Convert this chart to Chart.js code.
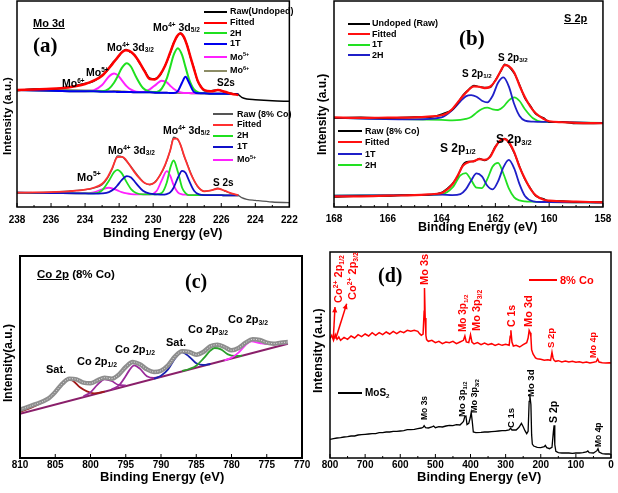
<!DOCTYPE html>
<html>
<head>
<meta charset="utf-8">
<script src="https://cdn.jsdelivr.net/npm/chart.js@4.4.1/dist/chart.umd.min.js"></script>
<style>
  body { margin: 0; background: #fff; }
  #fig { position: relative; width: 618px; height: 493px; overflow: hidden; background: #fff;
         font-family: 'Liberation Sans', Arial, sans-serif; }
  #fig canvas { position: absolute; }
  .t { position: absolute; line-height: 1; white-space: nowrap; font-weight: bold; color: #000; }
  .t sup, .t sub { font-size: 0.62em; position: relative; vertical-align: baseline; line-height: 0; }
  .t sup { top: -0.6em; }
  .t sub { top: 0.3em; }
  .serif { font-family: 'Liberation Serif', 'Times New Roman', serif; }
  .rot { transform-origin: left top; transform: rotate(-90deg); }
  .red { color: #ff0000; }
  .ln { position: absolute; height: 2px; }
</style>
</head>
<body>
<div id="fig">
  <canvas id="cA" width="305" height="245" style="left:0;top:0"></canvas>
  <canvas id="cB" width="313" height="245" style="left:305px;top:0"></canvas>
  <canvas id="cC" width="315" height="248" style="left:0;top:245px"></canvas>
  <canvas id="cD" width="313" height="248" style="left:305px;top:245px"></canvas>

  <!-- axis titles -->
  <div class="t rot" style="left:1.5px;top:155px;font-size:11.5px">Intensity (a.u.)</div>
  <div class="t rot" style="left:316px;top:155px;font-size:12px">Intensity (a.u.)</div>
  <div class="t rot" style="left:1.5px;top:402px;font-size:12px">Intensity(a.u.)</div>
  <div class="t rot" style="left:312px;top:393px;font-size:12.5px">Intensity (a.u.)</div>
  <div class="t" style="left:103px;top:226.5px;font-size:12.5px">Binding Energy (eV)</div>
  <div class="t" style="left:418px;top:221px;font-size:12.5px">Binding Energy (eV)</div>
  <div class="t" style="left:100px;top:470px;font-size:13px">Binding Energy (eV)</div>
  <div class="t" style="left:417px;top:469.5px;font-size:13px">Binding Energy (eV)</div>

  <!-- (a) Mo 3d -->
  <div class="t" style="left:33px;top:17.5px;font-size:11px;text-decoration:underline">Mo 3d</div>
  <div class="t serif" style="left:33px;top:35px;font-size:21px">(a)</div>
  <div class="t" style="left:107px;top:41.5px;font-size:10.5px">Mo<sup>4+</sup> 3d<sub>3/2</sub></div>
  <div class="t" style="left:153px;top:21.5px;font-size:10.5px">Mo<sup>4+</sup> 3d<sub>5/2</sub></div>
  <div class="t" style="left:86px;top:66.5px;font-size:10.5px">Mo<sup>5+</sup></div>
  <div class="t" style="left:62px;top:77.5px;font-size:10.5px">Mo<sup>6+</sup></div>
  <div class="t" style="left:217px;top:77.5px;font-size:10px">S2s</div>
  <div class="t" style="left:108px;top:144.5px;font-size:10.5px">Mo<sup>4+</sup> 3d<sub>3/2</sub></div>
  <div class="t" style="left:163px;top:124.5px;font-size:10.5px">Mo<sup>4+</sup> 3d<sub>5/2</sub></div>
  <div class="t" style="left:77px;top:171.5px;font-size:11px">Mo<sup>5+</sup></div>
  <div class="t" style="left:213px;top:177.5px;font-size:10px">S 2s</div>

  <div class="ln" style="left:204px;top:10.5px;width:23px;background:#000"></div>
  <div class="t" style="left:230px;top:7px;font-size:9px">Raw(Undoped)</div>
  <div class="ln" style="left:204px;top:21.5px;width:23px;background:#ff0000"></div>
  <div class="t" style="left:230px;top:18px;font-size:9px">Fitted</div>
  <div class="ln" style="left:204px;top:32px;width:23px;background:#1fe01f"></div>
  <div class="t" style="left:230px;top:28.5px;font-size:9px">2H</div>
  <div class="ln" style="left:204px;top:42.5px;width:23px;background:#0000ee"></div>
  <div class="t" style="left:230px;top:39px;font-size:9px">1T</div>
  <div class="ln" style="left:204px;top:56px;width:23px;background:#ff20ff"></div>
  <div class="t" style="left:230px;top:52.5px;font-size:9px">Mo<sup>5+</sup></div>
  <div class="ln" style="left:204px;top:69.5px;width:23px;background:#8c8c66"></div>
  <div class="t" style="left:230px;top:66px;font-size:9px">Mo<sup>6+</sup></div>

  <div class="ln" style="left:213px;top:113px;width:20px;background:#555"></div>
  <div class="t" style="left:237px;top:109.5px;font-size:9px">Raw (8% Co)</div>
  <div class="ln" style="left:213px;top:123.5px;width:20px;background:#ff3030"></div>
  <div class="t" style="left:237px;top:120px;font-size:9px">Fitted</div>
  <div class="ln" style="left:213px;top:134.5px;width:20px;background:#1fe01f"></div>
  <div class="t" style="left:237px;top:131px;font-size:9px">2H</div>
  <div class="ln" style="left:213px;top:145.5px;width:20px;background:#1010c8"></div>
  <div class="t" style="left:237px;top:142px;font-size:9px">1T</div>
  <div class="ln" style="left:213px;top:158.5px;width:20px;background:#ff20ff"></div>
  <div class="t" style="left:237px;top:155px;font-size:9px">Mo<sup>5+</sup></div>

  <!-- (b) S 2p -->
  <div class="t serif" style="left:459px;top:28px;font-size:21px">(b)</div>
  <div class="t" style="left:564px;top:12.5px;font-size:11px;text-decoration:underline">S 2p</div>
  <div class="t" style="left:462px;top:68.5px;font-size:10px">S 2p<sub>1/2</sub></div>
  <div class="t" style="left:498px;top:52.5px;font-size:10px">S 2p<sub>3/2</sub></div>
  <div class="t" style="left:440px;top:141.5px;font-size:12px">S 2p<sub>1/2</sub></div>
  <div class="t" style="left:496px;top:132.5px;font-size:12px">S 2p<sub>3/2</sub></div>

  <div class="ln" style="left:348px;top:22.5px;width:22px;background:#000"></div>
  <div class="t" style="left:372px;top:19px;font-size:9px">Undoped (Raw)</div>
  <div class="ln" style="left:348px;top:33px;width:22px;background:#ff1010"></div>
  <div class="t" style="left:372px;top:29.5px;font-size:9px">Fitted</div>
  <div class="ln" style="left:348px;top:43.5px;width:22px;background:#22e022"></div>
  <div class="t" style="left:372px;top:40px;font-size:9px">1T</div>
  <div class="ln" style="left:348px;top:54px;width:22px;background:#1f1fc8"></div>
  <div class="t" style="left:372px;top:50.5px;font-size:9px">2H</div>

  <div class="ln" style="left:338px;top:130px;width:24px;background:#000"></div>
  <div class="t" style="left:365px;top:126.5px;font-size:9px">Raw (8% Co)</div>
  <div class="ln" style="left:338px;top:141px;width:24px;background:#ff1010"></div>
  <div class="t" style="left:365px;top:137.5px;font-size:9px">Fitted</div>
  <div class="ln" style="left:338px;top:153px;width:24px;background:#1f1fc8"></div>
  <div class="t" style="left:365px;top:149.5px;font-size:9px">1T</div>
  <div class="ln" style="left:338px;top:164px;width:24px;background:#22e022"></div>
  <div class="t" style="left:365px;top:160.5px;font-size:9px">2H</div>

  <!-- (c) Co 2p -->
  <div class="t" style="left:37px;top:268.5px;font-size:11.5px"><span style="text-decoration:underline">Co 2p</span> (8% Co)</div>
  <div class="t serif" style="left:185px;top:271px;font-size:20px">(c)</div>
  <div class="t" style="left:46px;top:363.5px;font-size:11px">Sat.</div>
  <div class="t" style="left:77px;top:355.5px;font-size:11px">Co 2p<sub>1/2</sub></div>
  <div class="t" style="left:115px;top:343.5px;font-size:11px">Co 2p<sub>1/2</sub></div>
  <div class="t" style="left:166px;top:336.5px;font-size:11px">Sat.</div>
  <div class="t" style="left:188px;top:323.5px;font-size:11px">Co 2p<sub>3/2</sub></div>
  <div class="t" style="left:228px;top:313.5px;font-size:11px">Co 2p<sub>3/2</sub></div>

  <!-- (d) survey -->
  <div class="t serif" style="left:378px;top:265px;font-size:20px">(d)</div>
  <div class="ln" style="left:529px;top:279px;width:28px;background:#ff0000"></div>
  <div class="t red" style="left:560px;top:274.5px;font-size:11px">8% Co</div>
  <div class="ln" style="left:338px;top:392px;width:24px;background:#000"></div>
  <div class="t" style="left:365px;top:388px;font-size:10px">MoS<sub>2</sub></div>

  <div class="t rot red" style="left:333px;top:303px;font-size:11px">Co<sup>2+</sup> 2p<sub>1/2</sub></div>
  <div class="t rot red" style="left:347px;top:300px;font-size:11px">Co<sup>2+</sup> 2p<sub>3/2</sub></div>
  <div class="t rot red" style="left:419px;top:285px;font-size:11px">Mo 3s</div>
  <div class="t rot red" style="left:457.5px;top:332px;font-size:10px">Mo 3p<sub>1/2</sub></div>
  <div class="t rot red" style="left:471px;top:331px;font-size:11px">Mo 3p<sub>3/2</sub></div>
  <div class="t rot red" style="left:506px;top:327px;font-size:10.5px">C 1s</div>
  <div class="t rot red" style="left:523px;top:327px;font-size:11px">Mo 3d</div>
  <div class="t rot red" style="left:546px;top:348px;font-size:9.5px">S 2p</div>
  <div class="t rot red" style="left:589px;top:358px;font-size:9px">Mo 4p</div>

  <div class="t rot" style="left:420px;top:420px;font-size:8.5px">Mo 3s</div>
  <div class="t rot" style="left:457px;top:417px;font-size:9.5px">Mo 3p<sub>1/2</sub></div>
  <div class="t rot" style="left:470px;top:413px;font-size:9px">Mo 3p<sub>3/2</sub></div>
  <div class="t rot" style="left:506px;top:428px;font-size:9.5px">C 1s</div>
  <div class="t rot" style="left:526px;top:397px;font-size:9.5px">Mo 3d</div>
  <div class="t rot" style="left:548px;top:423px;font-size:10.5px">S 2p</div>
  <div class="t rot" style="left:594px;top:447px;font-size:8.5px">Mo 4p</div>
</div>

<script>
// ---------- (a) Mo 3d ----------
const moE = [238, 237, 236, 235, 234.5, 234, 233.5, 233, 232.7, 232.4, 232.1, 231.8, 231.6, 231.4, 231.1, 230.8,
             230.5, 230.2, 229.9, 229.6, 229.3, 229, 228.8, 228.6, 228.4, 228.2, 228, 227.8, 227.6, 227.4, 227.2,
             227, 226.6, 226.2, 225.8, 225.4, 225, 224.8, 224.5, 224, 223, 222];
const moFitE = moE.slice(0, 37);
const undopedRaw = [350, 355, 355, 361, 366, 372, 378, 397, 410, 433, 448, 468, 474, 468, 458, 433, 410, 388, 386, 396,
                    426, 463, 494, 512, 524, 510, 487, 448, 417, 380, 364, 350, 350, 353, 346, 342, 338, 330, 325, 323, 320, 318];
const undopedFit = [352, 354, 356, 360, 364, 370, 380, 395, 412, 430, 450, 467, 472, 470, 457, 435, 408, 385, 384, 398,
                    425, 465, 492, 514, 522, 512, 485, 450, 415, 382, 362, 352, 348, 352, 347, 341, 337];
const coMoRaw = [42, 43, 45, 48, 50, 52, 57, 67, 85, 115, 154, 150, 140, 128, 108, 88, 72, 67, 75, 95,
                 125, 170, 210, 205, 188, 155, 130, 103, 80, 62, 52, 48, 50, 57, 48, 40, 35, 28, 23, 20, 15, 13];
const coMoFit = [43, 44, 45, 47, 49, 52, 58, 70, 88, 118, 150, 151, 142, 127, 105, 86, 72, 68, 74, 96,
                 127, 170, 205, 206, 188, 157, 128, 101, 80, 63, 52, 47, 50, 55, 49, 41, 36];

const moCompE = [238, 236, 234, 233.5, 233, 232.6, 232.3, 232.1, 231.85, 231.55, 231.3, 231, 230.6, 230.2, 229.8,
                 229.5, 229.2, 229, 228.8, 228.55, 228.3, 228.1, 227.9, 227.6, 227.3, 227, 226.6, 226.2, 225.8, 225];
const undoped2H  = [352, 350, 348, 348, 348, 356, 374, 392, 418, 433, 422, 391, 358, 347, 346,
                    356, 387, 421, 457, 478, 457, 421, 386, 354, 344, 342, 341, 341, 341, 340];
const undoped1T  = [352, 350, 348, 348, 347, 347, 347, 346, 346, 346, 346, 345, 345, 345, 344,
                    344, 344, 343, 343, 349, 375, 392, 375, 346, 342, 342, 341, 341, 341, 340];
const undopedMo5 = [352, 350, 348, 351, 367, 393, 402, 397, 382, 363, 353, 347, 346, 354, 370,
                    380, 375, 365, 356, 348, 344, 343, 343, 342, 342, 342, 341, 341, 341, 340];
const undopedMo6 = [352, 353, 351, 350, 349, 348, 349, 349, 348, 347, 346, 345, 345, 345, 344,
                    344, 344, 343, 343, 343, 343, 343, 343, 342, 342, 342, 341, 341, 341, 340];
const coMo2H  = [43, 42, 41, 41, 50, 79, 105, 112, 102, 74, 54, 42, 38, 38, 38,
                 42, 74, 117, 140, 106, 58, 42, 36, 36, 36, 36, 36, 36, 35, 35];
const coMo1T  = [43, 42, 41, 40, 41, 45, 54, 65, 81, 93, 89, 71, 49, 40, 38,
                 37, 39, 44, 58, 88, 109, 103, 80, 49, 38, 36, 36, 36, 35, 35];
const coMoMo5 = [43, 42, 41, 44, 53, 58, 54, 50, 45, 41, 39, 38, 38, 38, 48,
                 80, 108, 94, 66, 44, 38, 37, 36, 36, 36, 36, 36, 36, 35, 35];

// ---------- (b) S 2p ----------
const sE = [168, 167, 166, 165, 164.5, 164, 163.8, 163.6, 163.4, 163.2, 163, 162.8, 162.6, 162.4, 162.2,
            162, 161.8, 161.65, 161.5, 161.3, 161.1, 160.9, 160.7, 160.5, 160.2, 160, 159.5, 159, 158];
const sUndopedRaw = [268, 270, 267, 271, 270, 279, 285, 293, 313, 337, 353, 366, 362, 360, 360,
                     382, 408, 430, 422, 402, 368, 327, 305, 280, 268, 256, 256, 251, 252];
const sUndopedFit = [270, 268, 269, 270, 272, 276, 282, 295, 315, 335, 352, 363, 362, 358, 362,
                     380, 410, 427, 424, 405, 365, 330, 302, 282, 265, 258, 255, 253, 252];
const sCoRaw = [30, 33, 33, 37, 37, 44, 55, 70, 93, 128, 137, 137, 146, 140, 152,
                182, 200, 206, 193, 163, 122, 83, 57, 33, 24, 18, 18, 15, 15];
const sCoFit = [32, 32, 34, 36, 38, 42, 52, 68, 95, 125, 135, 138, 144, 142, 150,
                180, 202, 204, 195, 165, 120, 85, 55, 35, 22, 19, 17, 16, 14];
const sCompE = [168, 165, 164, 163.6, 163.3, 163.1, 162.9, 162.7, 162.5, 162.3, 162.1, 161.9, 161.7, 161.5,
                161.3, 161.1, 160.9, 160.6, 160.3, 160, 158];
const sUndoped2H = [268, 264, 270, 292, 318, 333, 337, 332, 320, 315, 335, 374, 390, 363, 310, 274, 260, 257, 256, 256, 253];
const sUndoped1T = [268, 264, 262, 261, 262, 265, 271, 284, 295, 299, 294, 292, 302, 321, 330, 319, 294, 267, 257, 256, 253];
const sCo2H = [34, 36, 38, 58, 95, 102, 81, 58, 57, 84, 122, 133, 100, 56, 29, 20, 17, 16, 15, 15, 13];
const sCo1T = [34, 36, 37, 36, 39, 53, 80, 101, 92, 64, 53, 77, 120, 142, 116, 68, 33, 17, 15, 15, 13];

// ---------- (c) Co 2p ----------
const cE = [810, 808, 806, 805, 804, 803, 802, 801, 800, 799, 798, 797, 796, 795, 794, 793, 792, 791, 790,
            789, 788, 787, 786, 785, 784, 783, 782, 781, 780, 779, 778, 777, 776, 775, 774, 773, 772];
const cRaw = [145, 160, 178, 198, 223, 238, 236, 226, 224, 233, 241, 238, 250, 273, 288, 281, 266, 258, 262,
              278, 305, 320, 318, 310, 318, 335, 340, 333, 323, 330, 346, 356, 354, 346, 343, 346, 348];
const satAE = [810, 808, 807, 806, 805, 804, 803.3, 802.5, 801.5, 800.5, 799.5, 798];
const satA  = [138, 155, 165, 178, 200, 226, 238, 232, 212, 200, 194, 199];
const p12AE = [801, 800, 799, 798, 797, 796, 795];
const p12A  = [185, 197, 220, 236, 231, 219, 218];
const p12BE = [797, 796, 795, 794.5, 793.8, 793, 792, 791, 790];
const p12B  = [206, 217, 246, 263, 278, 268, 245, 240, 244];
const satBE = [791, 790, 789, 788, 787.1, 786, 785, 784, 783];
const satB  = [238, 247, 266, 299, 318, 304, 284, 279, 282];
const p32AE = [787, 786, 785, 784, 783, 782.4, 781.5, 780.5, 779.5, 778.5];
const p32A  = [261, 267, 277, 298, 322, 330, 326, 311, 306, 307];
const p32BE = [781, 780, 779, 778, 777.2, 776, 775, 774, 773, 772];
const p32B  = [293, 301, 316, 339, 350, 345, 342, 342, 343, 345];
const cBaseE = [810, 772];
const cBase  = [133, 343];

// ---------- (d) survey ----------
const dCoE = [800, 795, 790, 785, 780, 775, 770, 760, 750, 740, 730, 720, 710, 700, 690, 680, 670, 660, 650, 640,
              630, 620, 610, 600, 590, 580, 570, 560, 550, 545, 540, 535, 532, 531, 529, 527, 525, 520, 510, 500,
              490, 480, 470, 460, 450, 440, 430, 420, 416, 412, 405, 400, 396, 390, 380, 370, 360, 350, 340, 330,
              320, 310, 300, 290, 287, 285, 282, 278, 270, 260, 250, 240, 236, 233, 230, 228, 226, 222, 215, 210,
              200, 190, 180, 172, 168, 165, 162, 158, 150, 140, 130, 120, 110, 100, 90, 80, 70, 60, 50, 42,
              38, 34, 25, 15, 5, 0];
const dCo = [358, 368, 353, 370, 356, 363, 353, 362, 356, 366, 360, 370, 364, 372, 366, 376, 368, 376, 370, 378,
             372, 380, 373, 380, 376, 383, 380, 383, 380, 373, 368, 372, 440, 510, 420, 368, 355, 350, 353, 346,
             350, 343, 348, 346, 350, 343, 348, 353, 366, 348, 346, 370, 348, 342, 346, 340, 345, 340, 343, 338,
             342, 338, 341, 338, 365, 383, 348, 336, 338, 333, 340, 346, 360, 383, 376, 363, 325, 312, 300, 298,
             296, 293, 295, 293, 317, 300, 293, 290, 292, 288, 291, 288, 290, 287, 289, 286, 288, 285, 287, 289,
             297, 288, 286, 285, 286, 285];
const dMoE = [800, 790, 780, 770, 760, 750, 740, 730, 720, 710, 700, 690, 680, 670, 660, 650, 640, 630, 620, 610,
              600, 590, 580, 570, 560, 550, 540, 535, 532, 528, 520, 510, 505, 500, 490, 480, 470, 460, 450, 440,
              430, 425, 420, 416, 413, 410, 405, 401, 398, 395, 392, 385, 370, 360, 350, 340, 330, 320, 310, 300,
              290, 286, 282, 270, 262, 255, 250, 245, 240, 236, 233, 231, 228, 226, 224, 220, 210, 200, 190, 187,
              183, 175, 168, 164, 162, 160, 157, 150, 140, 130, 120, 110, 100, 90, 80, 70, 66, 62, 50, 40,
              37, 34, 25, 15, 5, 0];
const dMo = [56, 58, 60, 61, 63, 64, 66, 66, 69, 70, 71, 72, 73, 73, 76, 76, 78, 78, 80, 80,
             81, 82, 85, 85, 86, 88, 90, 92, 97, 91, 90, 93, 96, 91, 94, 93, 96, 98, 97, 100,
             99, 104, 110, 125, 126, 100, 104, 120, 137, 110, 78, 76, 77, 78, 78, 79, 80, 81, 82, 82,
             84, 89, 84, 84, 92, 104, 94, 82, 73, 80, 170, 188, 160, 70, 42, 36, 32, 31, 34, 38,
             31, 28, 32, 80, 98, 40, 20, 16, 15, 15, 15, 14, 15, 15, 16, 18, 21, 16, 15, 22,
             28, 18, 13, 12, 12, 11];
// Co2+ arrows: [fromE, fromI, toE, toI]
const dArrows = [[790.6, 358, 785.8, 453], [783.8, 358, 752.5, 463]];

const tickFont = { family: "'Liberation Sans', Arial, sans-serif", weight: 'bold', size: 10 };

function pts(xs, ys) {
    return xs.map((x, i) => ({ x: x, y: ys[i] }));
}

function curve(xs, ys, color, width, extra) {
    return Object.assign({
        data: pts(xs, ys),
        borderColor: color,
        borderWidth: width,
        pointRadius: 0,
        fill: false,
        cubicInterpolationMode: 'monotone'
    }, extra || {});
}

// box round the plot area plus small inward ticks on the energy axis
function makeFrame(minor, every, lw) {
    return {
        id: 'frame',
        afterDraw(chart) {
            const { ctx, chartArea: a } = chart;
            const x = chart.scales.x;
            ctx.save();
            ctx.strokeStyle = '#000';
            ctx.lineWidth = lw;
            ctx.strokeRect(a.left, a.top, a.right - a.left, a.bottom - a.top);
            ctx.lineWidth = 1;
            const n = Math.round((x.max - x.min) / minor);
            for (let i = 0; i <= n; i++) {
                const px = x.getPixelForValue(x.min + i * minor);
                const len = (i % every === 0) ? 4 : 2;
                ctx.beginPath();
                ctx.moveTo(px, a.bottom);
                ctx.lineTo(px, a.bottom - len);
                ctx.stroke();
            }
            ctx.restore();
        }
    };
}

const arrowPlugin = {
    id: 'coArrows',
    afterDatasetsDraw(chart) {
        const { ctx } = chart;
        const x = chart.scales.x, y = chart.scales.y;
        ctx.save();
        ctx.strokeStyle = '#ff0000';
        ctx.fillStyle = '#ff0000';
        ctx.lineWidth = 1.5;
        dArrows.forEach(ar => {
            const x0 = x.getPixelForValue(ar[0]), y0 = y.getPixelForValue(ar[1]);
            const x1 = x.getPixelForValue(ar[2]), y1 = y.getPixelForValue(ar[3]);
            const ang = Math.atan2(y1 - y0, x1 - x0);
            ctx.beginPath();
            ctx.moveTo(x0, y0);
            ctx.lineTo(x1, y1);
            ctx.stroke();
            ctx.beginPath();
            ctx.moveTo(x1, y1);
            ctx.lineTo(x1 - 6 * Math.cos(ang - 0.45), y1 - 6 * Math.sin(ang - 0.45));
            ctx.lineTo(x1 - 6 * Math.cos(ang + 0.45), y1 - 6 * Math.sin(ang + 0.45));
            ctx.closePath();
            ctx.fill();
        });
        ctx.restore();
    }
};

function options(xr, yMax, pad, axisH, tickPad) {
    return {
        responsive: false,
        animation: false,
        devicePixelRatio: 1,
        layout: { padding: pad },
        plugins: { legend: { display: false }, tooltip: { enabled: false } },
        scales: {
            x: {
                type: 'linear', reverse: true, min: xr[0], max: xr[1],
                afterFit: (s) => { s.height = axisH; },
                grid: { display: false, drawTicks: false },
                border: { display: false },
                ticks: { stepSize: xr[2], autoSkip: false, maxRotation: 0, padding: tickPad, color: '#000', font: tickFont }
            },
            y: { display: false, min: 0, max: yMax }
        }
    };
}

// (a)
new Chart(document.getElementById('cA'), {
    type: 'line',
    data: {
        datasets: [
            curve(moFitE, undopedFit, '#ff0000', 2.5),
            curve(moE, undopedRaw, '#000000', 1.5),
            curve(moCompE, undoped1T, '#0000ee', 2),
            curve(moCompE, undoped2H, '#1fe01f', 2),
            curve(moCompE, undopedMo5, '#ff20ff', 2),
            curve(moCompE, undopedMo6, '#8c8c66', 2),
            curve(moFitE, coMoFit, '#ff3030', 1.8),
            curve(moE, coMoRaw, '#555555', 1.3),
            curve(moCompE, coMo1T, '#1010c8', 1.8),
            curve(moCompE, coMo2H, '#1fe01f', 1.8),
            curve(moCompE, coMoMo5, '#ff20ff', 1.8)
        ]
    },
    options: options([222, 238, 2], 620, { left: 17, right: 12, top: 1, bottom: 0 }, 38, 7.3),
    plugins: [makeFrame(1, 2, 1.5)]
});

// (b)
new Chart(document.getElementById('cB'), {
    type: 'line',
    data: {
        datasets: [
            curve(sE, sUndopedFit, '#ff1010', 2.2),
            curve(sE, sUndopedRaw, '#000000', 1.5),
            curve(sCompE, sUndoped2H, '#1f1fc8', 1.8),
            curve(sCompE, sUndoped1T, '#22e022', 1.8),
            curve(sE, sCoFit, '#ff1010', 2.2),
            curve(sE, sCoRaw, '#000000', 1.5),
            curve(sCompE, sCo1T, '#1f1fc8', 1.8),
            curve(sCompE, sCo2H, '#22e022', 1.8)
        ]
    },
    options: options([158, 168, 2], 620, { left: 29, right: 10, top: 1, bottom: 0 }, 38, 6.7),
    plugins: [makeFrame(0.5, 4, 1.5)]
});

// (c)
new Chart(document.getElementById('cC'), {
    type: 'line',
    data: {
        datasets: [
            curve(cE, cRaw, 'rgba(255,255,255,0.75)', 1, { borderDash: [1, 1.6] }),
            curve(cE, cRaw, '#8e8e8e', 4.5),
            curve(p32BE, p32B, '#ff30ff', 1.8),
            curve(p32AE, p32A, '#2aa02a', 1.8),
            curve(satBE, satB, '#1a22b0', 1.8),
            curve(p12BE, p12B, '#9a2a9a', 1.8),
            curve(p12AE, p12A, '#9a2a9a', 1.8),
            curve(satAE, satA, '#a01818', 1.8),
            curve(cBaseE, cBase, '#8a1f6a', 2)
        ]
    },
    options: options([770, 810, 5], 606, { left: 20, right: 13, top: 11, bottom: 0 }, 35, 1.3),
    plugins: [makeFrame(5, 1, 2)]
});

// (d)
new Chart(document.getElementById('cD'), {
    type: 'line',
    data: {
        datasets: [
            curve(dCoE, dCo, '#ff0000', 1.5, { cubicInterpolationMode: 'default', tension: 0 }),
            curve(dMoE, dMo, '#000000', 1.3, { cubicInterpolationMode: 'default', tension: 0 })
        ]
    },
    options: options([0, 800, 100], 618, { left: 25, right: 7, top: 7, bottom: 0 }, 35, 1),
    plugins: [makeFrame(50, 2, 1.5), arrowPlugin]
});
</script>
</body>
</html>
